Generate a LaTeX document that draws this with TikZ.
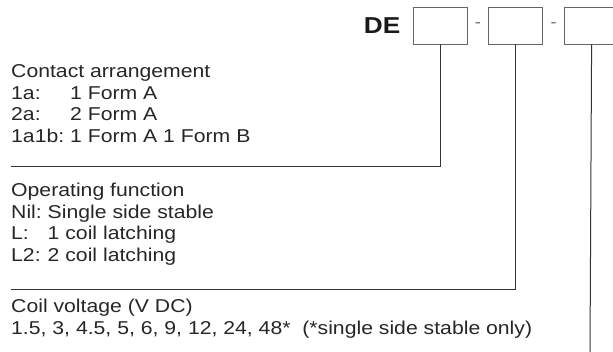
\documentclass[tikz,border=0pt]{standalone}
\usepackage{fontspec}
\setmainfont[FakeStretch=1.14]{Liberation Sans}
\usetikzlibrary{positioning}

\begin{document}
\begin{tikzpicture}[
  x=1pt, y=1pt,
  field/.style={draw=black!60, line width=0.8pt, minimum width=54pt, minimum height=37pt, inner sep=0pt},
  conn/.style={draw=black!80, line width=1pt},
  legend/.style={anchor=base west, inner sep=0pt, font=\fontsize{18.6}{21.5}\selectfont, text=black!85},
  sep/.style={inner sep=0pt, font=\fontsize{16}{16}\selectfont, text=black!60}
]
\clip (0,0) rectangle (613,352);

% code fields
\node[field] (f1) at (440,326.5) {};
\node[field, right=21pt of f1] (f2) {};
\node[field, right=21pt of f2] (f3) {};
\node[left=12pt of f1, inner sep=0pt, text=black!90, font=\fontsize{23}{23}\selectfont\bfseries] (de) {DE};
\path (f1) -- node[sep] (s1) {-} (f2);
\path (f2) -- node[sep] (s2) {-} (f3);

% legends
\node[legend] (contact) at (11,274) {\begin{tabular}[t]{@{}l@{\ }l@{}}
  \multicolumn{2}{@{}l@{}}{Contact arrangement}\\
  1a: & 1 Form A\\
  2a: & 2 Form A\\
  1a1b: & 1 Form A 1 Form B
\end{tabular}};
\node[legend] (function) at (11,155) {\begin{tabular}[t]{@{}l@{\ }l@{}}
  \multicolumn{2}{@{}l@{}}{Operating function}\\
  Nil: & Single side stable\\
  L: & 1 coil latching\\
  L2: & 2 coil latching
\end{tabular}};
\node[legend] (voltage) at (11,39) {\begin{tabular}[t]{@{}l@{}}
  Coil voltage (V DC)\\
  1.5, 3, 4.5, 5, 6, 9, 12, 24, 48*\ \ (*single side stable only)
\end{tabular}};

\coordinate (l1) at (11,185);
\coordinate (l2) at (11,62);
\coordinate (l3) at (590,0);
\draw[conn] (f1.south) |- (l1);
\draw[conn] (f2.south) |- (l2);
\draw[conn] (f3.south) -- (l3);

\end{tikzpicture}
\end{document}
